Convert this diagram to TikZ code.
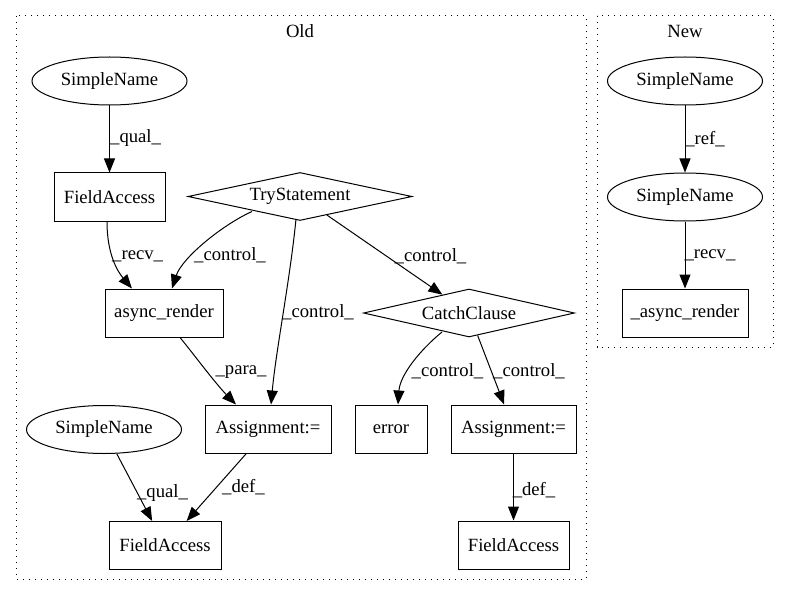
\documentclass[tikz,border=0pt]{standalone}
\usepackage{fontspec}
\setmainfont{Liberation Serif}
\usetikzlibrary{shapes.geometric,arrows.meta,calc}
\begin{document}
\begin{tikzpicture}[x=1pt,y=-1pt,
  every node/.style={font=\fontsize{18.67}{22}\selectfont},
  box/.style={draw, rectangle, line width=1pt, minimum height=48pt, inner sep=0pt},
  oval/.style={draw, ellipse, line width=1pt, minimum width=155pt, minimum height=48pt, inner sep=0pt},
  dia/.style={draw, diamond, aspect=4.67, line width=1pt, inner sep=0pt, minimum height=48pt},
  lbl/.style={inner sep=0pt},
  edge/.style={line width=1pt, -{Triangle[length=14pt,width=11pt]}},
  cluster/.style={line width=1pt, dash pattern=on 1.3pt off 4.7pt}
]
\useasboundingbox (0,0) rectangle (789,596);

% clusters
\draw[cluster] (16,16) rectangle (586,579);
\node[lbl] (oldlbl) at (300,31) {Old};
\draw[cluster] (597,16) rectangle (773,347);
\node[lbl] (newlbl) at (685,31) {New};

% Old nodes
\node[oval] (sn1) at (109.5,81) {SimpleName};
\node[box, minimum width=111pt] (fa1) at (109.5,197) {FieldAccess};
\node[dia, minimum width=224pt] (try) at (300,196.5) {TryStatement};
\node[box, minimum width=118pt] (async) at (164,313) {async\_render};
\node[dia, minimum width=211pt] (catch) at (469,313) {CatchClause};
\node[box, minimum width=126pt] (asgL) at (268,429) {Assignment:=};
\node[box, minimum width=72pt] (err) at (391,429) {error};
\node[box, minimum width=125pt] (asgR) at (513.5,429) {Assignment:=};
\node[oval] (sn3) at (104,429.5) {SimpleName};
\node[box, minimum width=112pt] (fa3) at (165,545.5) {FieldAccess};
\node[box, minimum width=111pt] (fa4) at (513.5,545) {FieldAccess};

% New nodes
\node[oval] (nsn1) at (685,81) {SimpleName};
\node[oval] (nsn2) at (685,197) {SimpleName};
\node[box, minimum width=126pt] (nar) at (685,313) {\_async\_render};

% Old edges
\draw[edge] (sn1) -- (fa1);
\node[lbl, anchor=west] (l1) at (110,138) {\_qual\_};

\draw[edge] ($(fa1.south)+(-2.5,0)$) .. controls (107,255) and (118,272) .. ($(async.north)+(-32,0)$);
\node[lbl, anchor=west] (l2) at (112,256) {\_recv\_};

\draw[edge] ($(try)+(-48,15)$) .. controls (222,225) and (182,258) .. ($(async.north)+(8,0)$);
\node[lbl] (l3) at (230,255) {\_control\_};

\draw[edge] ($(try)+(-4,22.5)$) .. controls (290,280) and (276,350) .. ($(asgL.north)+(3,0)$);
\node[lbl] (l4) at (318,312) {\_control\_};

\draw[edge] (try) -- (catch);
\node[lbl] (l5) at (430.5,256) {\_control\_};

\draw[edge] ($(async.south)+(16,0)$) .. controls (192,352) and (215,383) .. ($(asgL.north)+(-32,0)$);
\node[lbl] (l6) at (241,372) {\_para\_};

\draw[edge] ($(catch)+(-27,19)$) .. controls (420,350) and (400,375) .. ($(err.north)+(7,0)$);
\node[lbl] (l7) at (447.5,371) {\_control\_};

\draw[edge] (catch) -- (asgR);
\node[lbl] (l8) at (529,371) {\_control\_};

\draw[edge] (sn3) -- (fa3);
\node[lbl] (l9) at (162.5,493) {\_qual\_};

\draw[edge] (asgL) -- (fa3);
\node[lbl] (l10) at (243.5,487) {\_def\_};

\draw[edge] (asgR) -- (fa4);
\node[lbl] (l11) at (534,490) {\_def\_};

% New edges
\draw[edge] (nsn1) -- (nsn2);
\node[lbl] (l12) at (705,139) {\_ref\_};
\draw[edge] (nsn2) -- (nar);
\node[lbl] (l13) at (710,255) {\_recv\_};
\end{tikzpicture}
\end{document}
